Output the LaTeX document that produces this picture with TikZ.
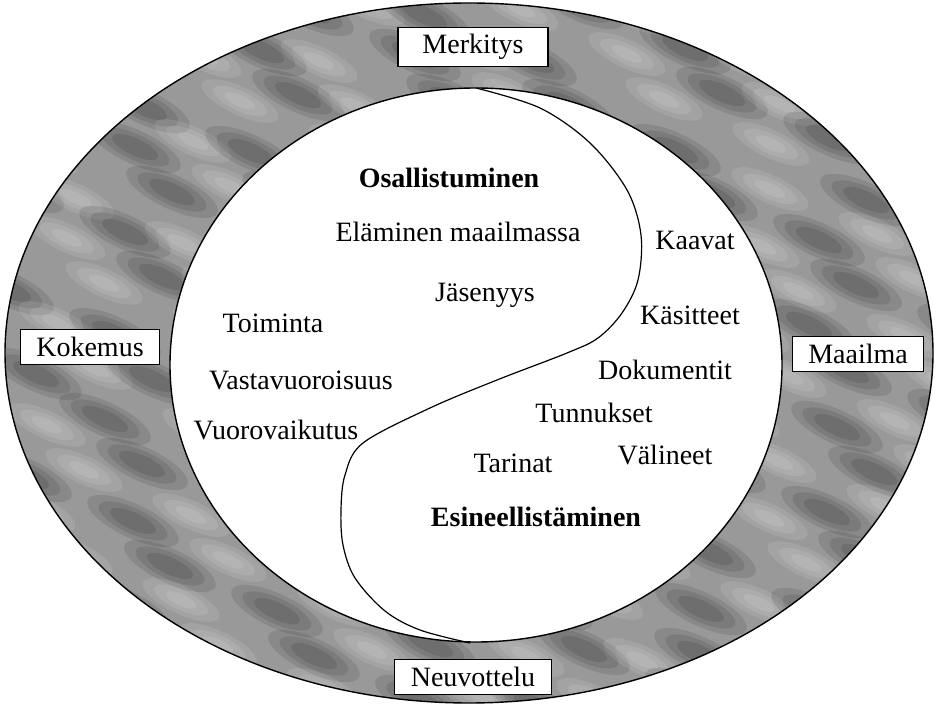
\documentclass[tikz,border=0pt]{standalone}
\usepackage{fontspec}
\setmainfont{Liberation Serif}
\usetikzlibrary{positioning}

\begin{document}
\begin{tikzpicture}[x=0.5pt,y=-0.5pt,
	every node/.style={font=\fontsize{14}{16}\selectfont},
	term/.style={anchor=base},
	head/.style={anchor=base,font=\fontsize{14}{16}\selectfont\bfseries},
	tag/.style={draw,fill=white,line width=0.6pt,inner xsep=8pt,minimum height=17.5pt},
	blob/.style={fill opacity=0.1}]
	\useasboundingbox (0,0) rectangle (937,710);
	\fill[black!40] (469,353) ellipse [x radius=464,y radius=350];
	\begin{scope}
	\clip (469,353) ellipse [x radius=464,y radius=350];
	\foreach \i in {0,...,13}
	\foreach \j in {0,...,15}{
		\pgfmathsetmacro\px{\i*70+35*mod(\j,2)+2*mod(13*\i+7*\j,19)}
		\pgfmathsetmacro\py{\j*46+mod(11*\i+5*\j,17)}
		\pgfmathtruncatemacro\dk{mod(\i+\j,2)}
		\ifnum\dk=0
			\foreach \s in {1,0.75,0.5}
				\fill[black,blob,rotate around={-25:(\px,\py)}] (\px,\py) ellipse [x radius=50*\s,y radius=17*\s];
		\else
			\foreach \s in {1,0.7,0.4}
				\fill[white,blob,rotate around={-25:(\px,\py)}] (\px,\py) ellipse [x radius=42*\s,y radius=14*\s];
		\fi
	}
	\end{scope}
	\draw[line width=0.7pt] (469,353) ellipse [x radius=464,y radius=350];
	\filldraw[fill=white,line width=0.7pt] (476,365) ellipse [x radius=306,y radius=277];
	\draw[line width=0.6pt] plot[smooth,tension=0.55] coordinates {(476,88) (540,108) (590,143) (627,190) (641,235) (638,280) (622,313) (598,338) (567,353) (497,380) (430,408) (363,443) (345,475) (341,510) (343,545) (355,578) (385,611) (420,630) (470,643)};
	\node[tag,minimum width=75pt] (merk) at (473,47) {Merkitys};
	\node[tag,minimum width=75pt] (neuv) at (473,677) {Neuvottelu};
	\node[tag] (koke) at (90,347) {Kokemus};
	\node[tag] (maai) at (858,354) {Maailma};
	\node[head] (osal) at (449,188) {Osallistuminen};
	\node[term] (elam) at (458,242) {Eläminen maailmassa};
	\node[term] (jase) at (485,302) {Jäsenyys};
	\node[term] (toim) at (273,333) {Toiminta};
	\node[term] (vast) at (301,390) {Vastavuoroisuus};
	\node[term] (vuor) at (276,440) {Vuorovaikutus};
	\node[term] (kaav) at (695,250) {Kaavat};
	\node[term] (kasi) at (690,325) {Käsitteet};
	\node[term] (doku) at (665,380) {Dokumentit};
	\node[term] (tunn) at (594,423) {Tunnukset};
	\node[term] (vali) at (665,465) {Välineet};
	\node[term] (tari) at (513,473) {Tarinat};
	\node[head] (esin) at (536,527) {Esineellistäminen};
\end{tikzpicture}
\end{document}
